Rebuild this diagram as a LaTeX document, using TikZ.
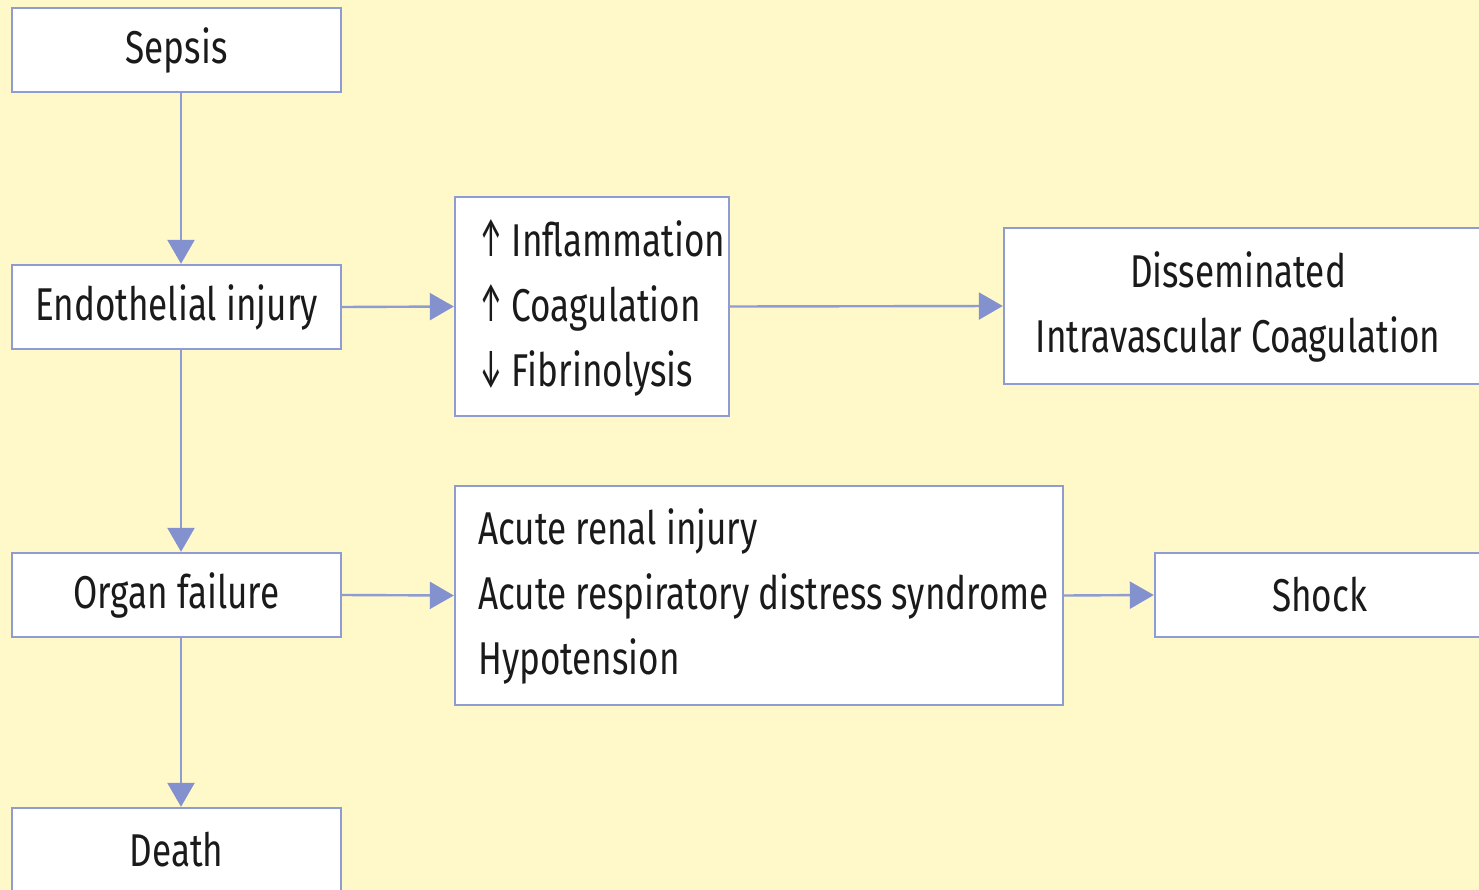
\documentclass[tikz,border=0pt]{standalone}
\usepackage{fontspec}
\setmainfont{Fira Sans}[FakeStretch=0.763]
\usetikzlibrary{arrows.meta}
\definecolor{bgyellow}{HTML}{FFF8C8}
\definecolor{edgeblue}{HTML}{8E9CD2}
\definecolor{tipblue}{HTML}{8391CF}
\definecolor{ink}{HTML}{1A1A1A}
\newcommand{\upar}{\scalebox{0.75}[1.2]{\char"2191}\hspace{9pt}}
\newcommand{\downar}{\scalebox{0.75}[1.2]{\char"2193}\hspace{9pt}}
\tikzset{
  box/.style={draw=edgeblue, line width=2.4pt, fill=white, inner sep=0pt, text=ink,
    font=\fontsize{46}{65}\selectfont},
  lbl/.style={inner sep=0pt, text=ink, font=\fontsize{46}{65}\selectfont},
  conn/.style={draw=edgeblue, line width=2.4pt, -{Triangle[length=24pt,width=27pt,fill=tipblue,color=tipblue]}}
}
\begin{document}
\begin{tikzpicture}[x=1pt,y=-1pt]
\fill[bgyellow] (0,0) rectangle (1479,890);
\useasboundingbox (0,0) rectangle (1479,890);
\clip (0,0) rectangle (1479,890);
% left column
\node[box, minimum width=329pt, minimum height=84pt] (sepsis) at (176.5,50) {Sepsis};
\node[box, minimum width=329pt, minimum height=84pt] (endo) at (176.5,307) {Endothelial injury};
\node[box, minimum width=329pt, minimum height=84pt] (organ) at (176.5,595) {Organ failure};
\node[box, minimum width=329pt, minimum height=84pt] (death) at (176.5,850) {Death};
% middle boxes
\node[box, minimum width=274pt, minimum height=219pt] (mid1) at (592,306.5) {};
\node[lbl, anchor=west, align=left] (mid1text) at (479,308)
  {\upar Inflammation\\\upar Coagulation\\\downar Fibrinolysis};
\node[box, minimum width=608pt, minimum height=219pt] (mid2) at (759,595.5) {};
\node[lbl, anchor=west, align=left] (mid2text) at (478,596)
  {Acute renal injury\\Acute respiratory distress syndrome\\Hypotension};
% right boxes
\node[box, minimum width=490pt, minimum height=156pt] (dic) at (1249,306) {};
\node[lbl, align=center] (dictext) at (1238,307) {Disseminated\\Intravascular Coagulation};
\node[box, minimum width=329pt, minimum height=84pt] (shock) at (1319.5,595) {Shock};
% connectors
\draw[conn] ([xshift=4.5pt]sepsis.south) -- ([xshift=4.5pt]endo.north);
\draw[conn] ([xshift=4.5pt]endo.south) -- ([xshift=4.5pt]organ.north);
\draw[conn] ([xshift=4.5pt]organ.south) -- ([xshift=4.5pt]death.north);
\draw[conn] (endo.east) -- (mid1.west);
\draw[conn] (mid1.east) -- (dic.west);
\draw[conn] (organ.east) -- (mid2.west);
\draw[conn] (mid2.east) -- (shock.west);
\end{tikzpicture}
\end{document}
